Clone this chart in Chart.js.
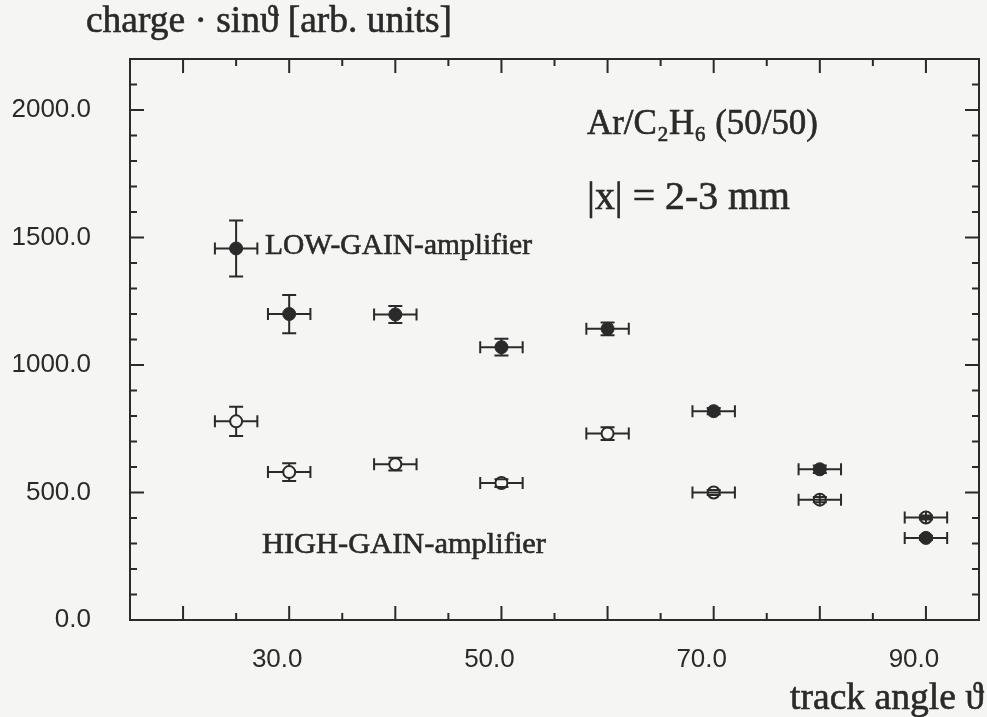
<!DOCTYPE html>
<html><head><meta charset="utf-8">
<script src="https://cdn.jsdelivr.net/npm/chart.js@4.4.1/dist/chart.umd.min.js"></script>
<style>html,body{margin:0;padding:0;background:#f5f5f3;overflow:hidden}canvas{display:block}</style>
</head><body>
<canvas id="c" width="987" height="717"></canvas>
<script>
// ---- data ----
const angles       = [25, 30, 40, 50, 60, 70, 80, 90];
const angleErr     = [2, 2, 2, 2, 2, 2, 2, 2];
const lowGain      = [1457, 1200, 1198, 1070, 1142, 819, 591, 322];
const lowGainErr   = [110, 75, 33, 33, 25, 12, 15, 8];
const highGain     = [779, 580, 611, 537, 731, 500, 472, 402];
const highGainErr  = [57, 35, 25, 15, 25, 10, 10, 8];
const xTickLabels  = [30, 50, 70, 90];
const yTickLabels  = [0, 500, 1000, 1500, 2000];
const seriesNames  = ['LOW-GAIN-amplifier', 'HIGH-GAIN-amplifier'];

const INK = '#2a2a2a';
const PAPER = '#f5f5f3';
const AREA = { left: 130, right: 985, top: 59, bottom: 620 };

function pts(ys){ return angles.map((x,i)=>({x:x, y:ys[i]})); }

function fitText(ctx, text, family, left, right, baseline){
  ctx.font = '100px ' + family;
  const w = ctx.measureText(text).width;
  const size = 100 * (right - left) / w;
  ctx.font = size.toFixed(2) + 'px ' + family;
  ctx.textAlign = 'left'; ctx.textBaseline = 'alphabetic';
  ctx.fillText(text, left, baseline);
  ctx.strokeText(text, left, baseline);
}

const errs = [lowGainErr, highGainErr];

const plugin = {
  id: 'paper',
  beforeDraw(chart){
    const ctx = chart.ctx;
    ctx.save(); ctx.fillStyle = PAPER; ctx.fillRect(0,0,chart.width,chart.height); ctx.restore();
  },
  beforeDatasetsDraw(chart){
    const ctx = chart.ctx, xs = chart.scales.x, ys = chart.scales.y;
    ctx.save(); ctx.strokeStyle = INK; ctx.lineWidth = 2;
    chart.data.datasets.forEach((ds, d) => {
      ds.data.forEach((p, i) => {
        const px = xs.getPixelForValue(p.x), py = ys.getPixelForValue(p.y);
        const x1 = xs.getPixelForValue(p.x - angleErr[i]), x2 = xs.getPixelForValue(p.x + angleErr[i]);
        const y1 = ys.getPixelForValue(p.y - errs[d][i]), y2 = ys.getPixelForValue(p.y + errs[d][i]);
        ctx.beginPath();
        ctx.moveTo(x1, py); ctx.lineTo(x2, py);
        ctx.moveTo(px, y1); ctx.lineTo(px, y2);
        ctx.stroke();
      });
    });
    ctx.restore();
  },
  afterDatasetsDraw(chart){
    const ctx = chart.ctx, xs = chart.scales.x, ys = chart.scales.y;
    ctx.save(); ctx.strokeStyle = INK; ctx.lineWidth = 2;
    chart.data.datasets.forEach((ds, d) => {
      ds.data.forEach((p, i) => {
        const px = xs.getPixelForValue(p.x), py = ys.getPixelForValue(p.y);
        const x1 = xs.getPixelForValue(p.x - angleErr[i]), x2 = xs.getPixelForValue(p.x + angleErr[i]);
        const y1 = ys.getPixelForValue(p.y - errs[d][i]), y2 = ys.getPixelForValue(p.y + errs[d][i]);
        ctx.beginPath();
        ctx.moveTo(x1, py-6); ctx.lineTo(x1, py+6);
        ctx.moveTo(x2, py-6); ctx.lineTo(x2, py+6);
        ctx.moveTo(px-7, y1); ctx.lineTo(px+7, y1);
        ctx.moveTo(px-7, y2); ctx.lineTo(px+7, y2);
        // open markers at large angles show the bars crossing them
        if (d === 1 && i >= 5) {
          ctx.moveTo(px-6, py); ctx.lineTo(px+6, py);
          if (i >= 6) { ctx.moveTo(px, py-6); ctx.lineTo(px, py+6); }
        }
        ctx.stroke();
      });
    });
    ctx.restore();
  },
  afterDraw(chart){
    const ctx = chart.ctx, xs = chart.scales.x, ys = chart.scales.y, a = chart.chartArea;
    ctx.save();
    ctx.strokeStyle = INK; ctx.fillStyle = INK; ctx.lineWidth = 2;
    ctx.strokeRect(a.left, a.top, a.right - a.left, a.bottom - a.top);
    ctx.beginPath();
    // x ticks every 5 units, major every 10
    for (let v = xs.min + 5; v < xs.max; v += 5) {
      const px = xs.getPixelForValue(v), len = (v % 10 === 0) ? 14 : 7;
      ctx.moveTo(px, a.bottom); ctx.lineTo(px, a.bottom - len);
      ctx.moveTo(px, a.top); ctx.lineTo(px, a.top + len);
    }
    // y ticks every 100, major every 500
    for (let v = ys.min + 100; v < ys.max; v += 100) {
      const py = ys.getPixelForValue(v), len = (v % 500 === 0) ? 14 : 7;
      ctx.moveTo(a.left, py); ctx.lineTo(a.left + len, py);
      ctx.moveTo(a.right, py); ctx.lineTo(a.right - len, py);
    }
    ctx.stroke();

    // tick labels
    ctx.font = '26px "Liberation Sans", Arial, sans-serif';
    ctx.textBaseline = 'middle';
    ctx.textAlign = 'center';
    xTickLabels.forEach(v => ctx.fillText(v.toFixed(1), xs.getPixelForValue(v) - 12, 660));
    ctx.textAlign = 'right';
    yTickLabels.forEach(v => ctx.fillText(v.toFixed(1), 91, ys.getPixelForValue(v)));

    // titles and annotations
    const SERIF = '"Liberation Serif", "DejaVu Serif", serif';
    ctx.lineWidth = 0.6;
    fitText(ctx, 'charge \u00b7 sin\u03d1 [arb. units]', SERIF, 86, 452, 32);
    fitText(ctx, 'track angle \u03d1', SERIF, 790, 984, 709);
    fitText(ctx, seriesNames[0], SERIF, 265, 532, 254);
    fitText(ctx, seriesNames[1], SERIF, 262, 546, 553);
    fitText(ctx, 'Ar/C\u2082H\u2086 (50/50)', SERIF, 587, 818, 134);
    fitText(ctx, '|x| = 2-3 mm', SERIF, 587, 790, 209);
    ctx.restore();
  }
};

function noPad(s){ s.paddingLeft = 0; s.paddingRight = 0; s.paddingTop = 0; s.paddingBottom = 0; }

const chart = new Chart(document.getElementById('c'), {
  type: 'scatter',
  data: {
    datasets: [
      { label: seriesNames[0], data: pts(lowGain), pointRadius: 6.5, pointHoverRadius: 6.5,
        backgroundColor: INK, borderColor: INK, borderWidth: 1 },
      { label: seriesNames[1], data: pts(highGain), pointRadius: 6, pointHoverRadius: 6,
        backgroundColor: PAPER, borderColor: INK, borderWidth: 2 }
    ]
  },
  options: {
    responsive: false, animation: false, devicePixelRatio: 1,
    layout: { padding: { left: AREA.left, right: 987 - AREA.right, top: AREA.top, bottom: 717 - AREA.bottom } },
    plugins: { legend: { display: false }, tooltip: { enabled: false } },
    scales: {
      x: { type: 'linear', min: 15, max: 95, display: false, ticks: { display: false }, afterFit: noPad },
      y: { type: 'linear', min: 0, max: 2200, display: false, ticks: { display: false }, afterFit: noPad }
    }
  },
  plugins: [plugin]
});

// nudge the layout padding so the plot frame lands exactly where the reference has it
const p = chart.options.layout.padding, ca = chart.chartArea;
const dl = AREA.left - ca.left, dr = AREA.right - ca.right, dt = AREA.top - ca.top, db = AREA.bottom - ca.bottom;
if (Math.abs(dl) + Math.abs(dr) + Math.abs(dt) + Math.abs(db) > 0.5) {
  p.left += dl; p.right -= dr; p.top += dt; p.bottom -= db;
  chart.update();
}
</script>
</body></html>
